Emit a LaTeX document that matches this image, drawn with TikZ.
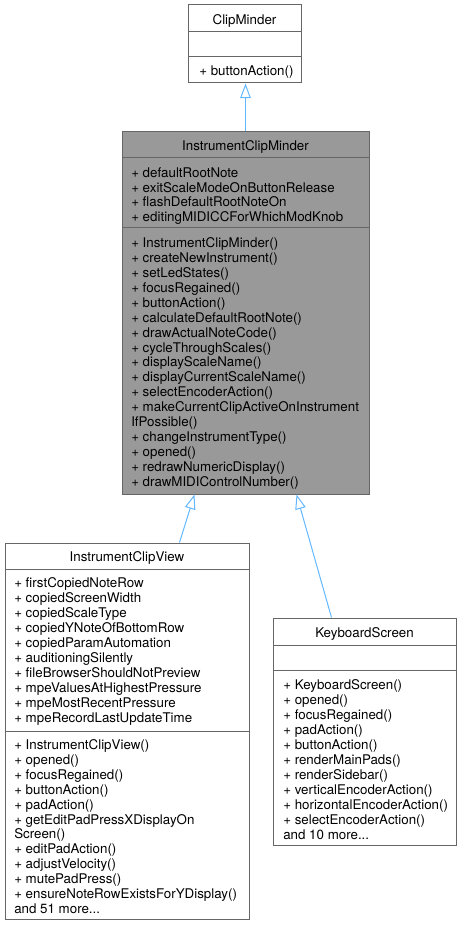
\documentclass[tikz,border=0pt]{standalone}
\usepackage{fontspec}
\setmainfont{TeX Gyre Heros}
\usetikzlibrary{arrows.meta,fit,calc}
\definecolor{edgeblue}{HTML}{63B8FF}
\definecolor{boxline}{HTML}{666666}
\definecolor{boxgray}{HTML}{999999}
\tikzset{
  umlbox/.style={draw=boxline, line width=0.75pt, fill=white, inner sep=0pt},
  umlgray/.style={umlbox, fill=boxgray},
  divider/.style={draw=boxline, line width=0.75pt},
  rowtext/.style={anchor=base west, inner sep=0pt, font=\fontsize{10}{12}\selectfont},
  headtext/.style={anchor=base, inner sep=0pt, font=\fontsize{10}{12}\selectfont},
  inh/.style={draw=edgeblue, line width=0.75pt, -{Triangle[open, length=11pt, width=8pt]}}
}
\newcommand\threedots{...}
\newcommand\rowlist[5]{%
  \foreach \t [count=\i] in {#5} {%
    \pgfmathsetmacro\yy{#3+5.5+(\i-1)*#4}%
    \node[rowtext] (#1-\i) at (#2,\yy) {\t};}}
\begin{document}
\begin{tikzpicture}[x=0.75pt,y=-0.75pt]
\useasboundingbox (0,0) rectangle (461,927);
% ClipMinder
\node[umlbox, fit={(188,5) (301,83)}] (cm) {};
\draw[divider] (188,32) -- (301,32);
\draw[divider] (188,57) -- (301,57);
\node[headtext] (cmh) at (244.5,24.5) {ClipMinder};
\rowlist{cmm}{199}{70}{15}{+ buttonAction()}
% InstrumentClipMinder
\node[umlgray, fit={(122,132) (369,494)}] (icm) {};
\draw[divider] (122,158) -- (369,158);
\draw[divider] (122,228) -- (369,228);
\node[headtext] (icmh) at (245.5,150.5) {InstrumentClipMinder};
\rowlist{icma}{131}{172}{14.7}{+ defaultRootNote, + exitScaleModeOnButtonRelease, + flashDefaultRootNoteOn, + editingMIDICCForWhichModKnob}
\rowlist{icmm}{131}{242}{14.93}{+ InstrumentClipMinder(), + createNewInstrument(), + setLedStates(), + focusRegained(), + buttonAction(), + calculateDefaultRootNote(), + drawActualNoteCode(), + cycleThroughScales(), + displayScaleName(), + displayCurrentScaleName(), + selectEncoderAction(), + makeCurrentClipActiveOnInstrument, IfPossible(), + changeInstrumentType(), + opened(), + redrawNumericDisplay(), + drawMIDIControlNumber()}
% InstrumentClipView
\node[umlbox, fit={(5,543) (249,919)}] (icv) {};
\draw[divider] (5,569) -- (249,569);
\draw[divider] (5,731) -- (249,731);
\node[headtext] (icvh) at (127,561.5) {InstrumentClipView};
\rowlist{icva}{14}{582}{15}{+ firstCopiedNoteRow, + copiedScreenWidth, + copiedScaleType, + copiedYNoteOfBottomRow, + copiedParamAutomation, + auditioningSilently, + fileBrowserShouldNotPreview, + mpeValuesAtHighestPressure, + mpeMostRecentPressure, + mpeRecordLastUpdateTime}
\rowlist{icvm}{14}{744}{14.9}{+ InstrumentClipView(), + opened(), + focusRegained(), + buttonAction(), + padAction(), + getEditPadPressXDisplayOn, Screen(), + editPadAction(), + adjustVelocity(), + mutePadPress(), + ensureNoteRowExistsForYDisplay(), and 51 more\threedots}
% KeyboardScreen
\node[umlbox, fit={(273,618) (456,845)}] (ks) {};
\draw[divider] (273,645) -- (456,645);
\draw[divider] (273,670) -- (456,670);
\node[headtext] (ksh) at (364.5,637.5) {KeyboardScreen};
\rowlist{ksm}{283}{684}{15}{+ KeyboardScreen(), + opened(), + focusRegained(), + padAction(), + buttonAction(), + renderMainPads(), + renderSidebar(), + verticalEncoderAction(), + horizontalEncoderAction(), + selectEncoderAction(), and 10 more\threedots}
% inheritance
\draw[inh] ($(icm.north west)+(124,0)$) -- ($(cm.south west)+(58,0)$);
\draw[inh] ($(icv.north west)+(175,0)$) -- ($(icm.south west)+(73,0)$);
\draw[inh] ($(ks.north west)+(59,0)$) -- ($(icm.south west)+(175,0)$);
\end{tikzpicture}
\end{document}
